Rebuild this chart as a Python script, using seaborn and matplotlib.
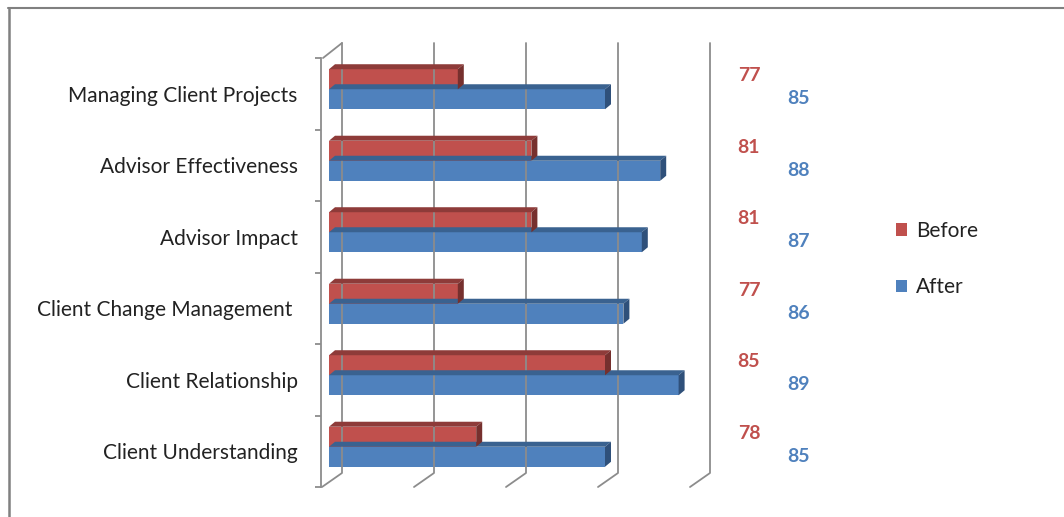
import numpy as np
import pandas as pd
import matplotlib
matplotlib.use("Agg")
import matplotlib.pyplot as plt
import matplotlib.transforms as mtransforms
import matplotlib.colors as mcolors
from matplotlib.patches import Polygon, Patch
from matplotlib.lines import Line2D
import seaborn as sns

# ---- data ----
categories = ["Managing Client Projects", "Advisor Effectiveness", "Advisor Impact",
              "Client Change Management ", "Client Relationship", "Client Understanding"]
before = [77, 81, 81, 77, 85, 78]
after = [85, 88, 87, 86, 89, 85]
series = ["Before", "After"]
x_ticks = [70, 75, 80, 85, 90]

front_colors = {"Before": "#C0504D", "After": "#4F81BD"}
top_colors = {"Before": "#8E3B39", "After": "#3A6290"}
side_colors = {"Before": "#76302E", "After": "#2F507A"}

df = pd.DataFrame({
    "category": categories * 2,
    "score": before + after,
    "period": [series[0]] * len(categories) + [series[1]] * len(categories),
})

sns.set_theme(style="white")
plt.rcParams["font.family"] = ["Lato", "DejaVu Sans"]

DPI = 100
W, H = 1064, 517
fig = plt.figure(figsize=(W / DPI, H / DPI), dpi=DPI)
fig.patch.set_facecolor("white")

# plot area in pixels (left, top, right, bottom)
L, T, R, B = 329, 58, 697, 487
ax = fig.add_axes([L / W, (H - B) / H, (R - L) / W, (B - T) / H])
ax.set_facecolor("none")

sns.barplot(data=df, y="category", x="score", hue="period", orient="h",
            palette=front_colors, hue_order=series, width=0.56, saturation=1,
            legend=False, ax=ax, zorder=2)

ax.set_xlim(x_ticks[0], x_ticks[-1])
ax.set_ylim(len(categories) - 0.5, -0.5)
ax.set_xlabel("")
ax.set_ylabel("")
ax.set_xticks(x_ticks)
ax.set_xticklabels([])
ax.tick_params(axis="x", length=0)

for s in ["top", "right", "bottom"]:
    ax.spines[s].set_visible(False)
grid_col = "#8C8C8C"
ax.spines["left"].set_color(grid_col)
ax.spines["left"].set_linewidth(1.3)
ax.spines["left"].set_position(("outward", 6))

ax.set_yticks(range(len(categories)))
ax.set_yticklabels(categories, fontsize=15, color="#222222")
ax.tick_params(axis="y", which="major", left=False, length=0, pad=16.5)
ax.set_yticks(np.arange(-0.5, len(categories), 1.0), minor=True)
ax.tick_params(axis="y", which="minor", left=True, length=4, width=1.3,
               color=grid_col, direction="out")

fig.canvas.draw()

# ---- 3D bar faces ----
lift = mtransforms.ScaledTranslation(0, 4.5 / DPI, fig.dpi_scale_trans)
bar_trans = ax.transData + lift
dx, dy = 6, 5
ident = mtransforms.IdentityTransform()
hex_to_series = {mcolors.to_hex(v): k for k, v in front_colors.items()}
for p in list(ax.patches):
    name = hex_to_series.get(mcolors.to_hex(p.get_facecolor()))
    if name is None:
        continue
    z = 3 if name == "Before" else 2
    p.set_transform(bar_trans)
    p.set_zorder(z)
    p.set_linewidth(0)
    x0 = max(p.get_x(), ax.get_xlim()[0])
    x1 = p.get_x() + p.get_width()
    (X0, Yt) = bar_trans.transform((x0, p.get_y()))
    (X1, Yb) = bar_trans.transform((x1, p.get_y() + p.get_height()))
    top = Polygon([(X0, Yt), (X1, Yt), (X1 + dx, Yt + dy), (X0 + dx, Yt + dy)],
                  closed=True, transform=ident, facecolor=top_colors[name],
                  edgecolor="none", zorder=z, clip_on=False)
    side = Polygon([(X1, Yt), (X1, Yb), (X1 + dx, Yb + dy), (X1 + dx, Yt + dy)],
                   closed=True, transform=ident, facecolor=side_colors[name],
                   edgecolor="none", zorder=z, clip_on=False)
    fig.add_artist(top)
    fig.add_artist(side)

# ---- back-wall gridlines with floor edge ----
ax_top = ax.transAxes.transform((0, 1))[1]
ax_bot = ax.transAxes.transform((0, 0))[1]
for v in x_ticks:
    xf = ax.transData.transform((v, 0))[0]
    xs = [xf + 13, xf + 13, xf - 7]
    ys = [ax_top + 15, ax_bot + 14, ax_bot]
    fig.add_artist(Line2D(xs, ys, transform=ident, color=grid_col, lw=1.3, zorder=0.5))
# top edge of the side wall
sp_x = ax.transAxes.transform((0, 1))[0] - 6
first = ax.transData.transform((x_ticks[0], 0))[0] + 13
fig.add_artist(Line2D([sp_x, first], [ax_top, ax_top + 15], transform=ident,
                      color=grid_col, lw=1.3, zorder=0.5))

# ---- value labels ----
lab_specs = [("Before", before, 749, 18), ("After", after, 799, -5)]
for name, vals, xpix, up in lab_specs:
    xa = (xpix - L) / (R - L)
    tr = mtransforms.blended_transform_factory(ax.transAxes, ax.transData) + \
        mtransforms.ScaledTranslation(0, up / DPI, fig.dpi_scale_trans)
    for i, v in enumerate(vals):
        ax.text(xa, i, f"{v}", transform=tr, ha="center", va="center",
                fontsize=14, fontweight="bold", color=front_colors[name], clip_on=False)

# ---- legend ----
handles = [Patch(facecolor=front_colors[s], edgecolor="none", label=s) for s in series]
fig.legend(handles=handles, loc="center left", bbox_to_anchor=(896 / W, 1 - 259 / H),
           frameon=False, fontsize=15, handlelength=0.55, handleheight=0.55,
           handletextpad=0.4, labelspacing=1.75, borderpad=0, borderaxespad=0,
           labelcolor="#222222")

# ---- outer frame ----
fig.add_artist(Line2D([8 / W, 1], [1 - 7.5 / H, 1 - 7.5 / H], transform=fig.transFigure,
                      color="#808080", lw=1.5))
fig.add_artist(Line2D([8.5 / W, 8.5 / W], [0, 1 - 7.5 / H], transform=fig.transFigure,
                      color="#808080", lw=1.8))

fig.savefig("out.png", dpi=DPI, facecolor="white")
